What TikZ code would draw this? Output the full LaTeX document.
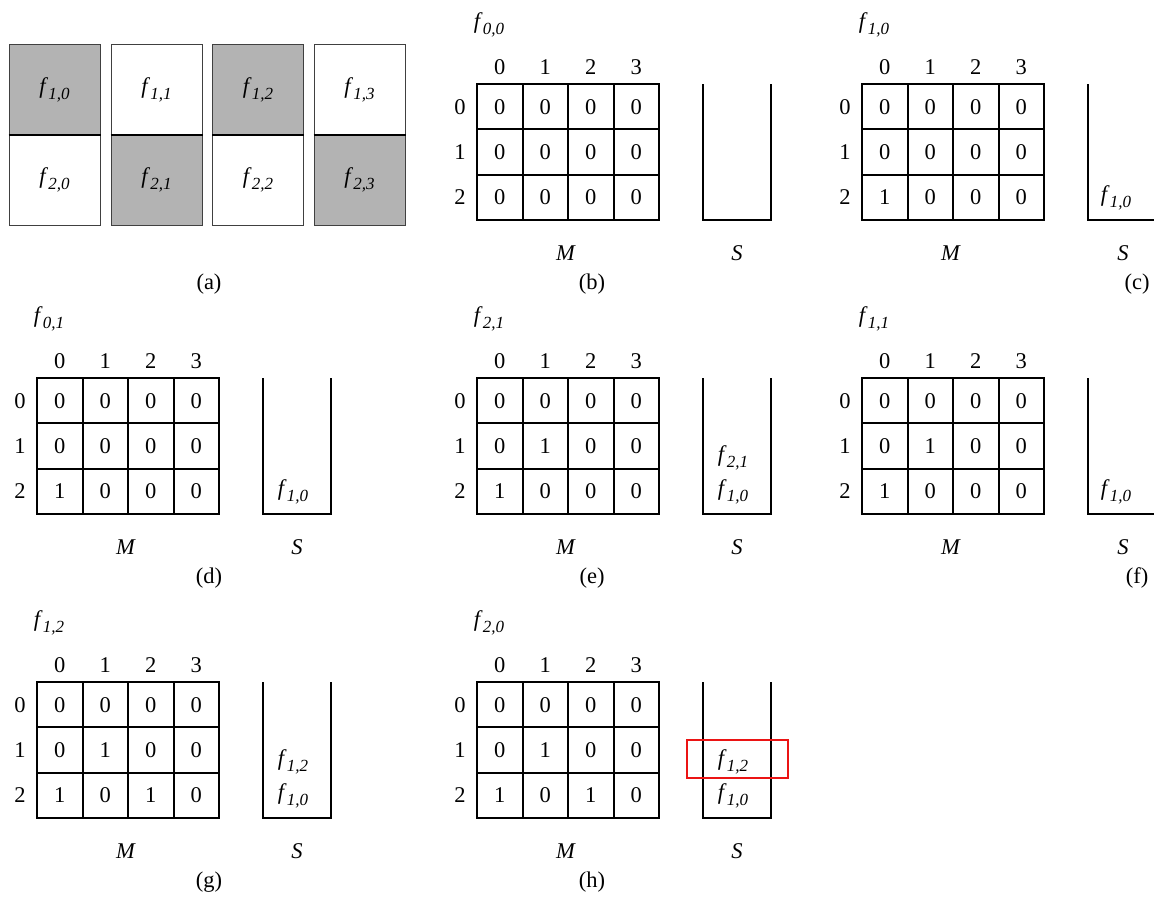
\documentclass[tikz,border=0pt]{standalone}
\usepackage{fontspec}
\setmainfont{Liberation Serif}
\definecolor{tilegray}{RGB}{179,179,179}
\definecolor{hlred}{RGB}{235,20,20}

% f with an italic subscript index, e.g. \fl{1,0}
\newcommand\fl[1]{\textit{f}\raisebox{-0.26em}{\fontsize{17}{19}\selectfont\textit{#1}}}

\tikzset{
  txt/.style={font=\fontsize{22.5}{26}\selectfont, inner sep=0pt},
  cell/.style={txt, draw, line width=2pt, minimum width=45.5pt, minimum height=45.3pt},
  wall/.style={line width=2pt},
  tile/.style={txt, draw=black!75, line width=1pt, minimum width=91pt, minimum height=90.5pt},
  shaded/.style={fill=tilegray},
  hlbox/.style={draw=hlred, line width=2pt, minimum width=101pt, minimum height=38pt, inner sep=0pt},
}

% matrix M with indices, current element and caption
% #1 id, #2 grid left, #3 grid top, #4 current index, #5 twelve values (row major),
% #6 caption letter, #7 caption x
\newcommand\panel[7]{%
  \pgfmathsetmacro\gb{#3+3*45.3}%
  \foreach \v [count=\k from 0] in {#5}{%
    \pgfmathtruncatemacro\r{div(\k,4)}%
    \pgfmathtruncatemacro\c{mod(\k,4)}%
    \node[cell] (#1-\r-\c) at ({#2+(\c+0.5)*45.5},{#3+(\r+0.5)*45.3}) {\v};
  }
  \foreach \c in {0,...,3}
    \node[txt] (#1-col\c) at ({#2+(\c+0.5)*45.5},{#3-17}) {\c};
  \foreach \r in {0,1,2}
    \node[txt] (#1-row\r) at ({#2-17},{#3+(\r+0.5)*45.3}) {\r};
  \node[txt] (#1-cur) at ({#2+12},{#3-59}) {\fl{#4}};
  \node[txt] (#1-M) at ({#2+89},{\gb+33}) {\textit{M}};
  \node[txt] (#1-cap) at ({#7},{\gb+64}) {(#6)};
}

% stack S: #1 id, #2 left wall x, #3 top y
\newcommand\stackS[3]{%
  \coordinate (#1-tl) at (#2,#3);
  \coordinate (#1-bl) at (#2,#3+136);
  \coordinate (#1-br) at (#2+68,#3+136);
  \coordinate (#1-tr) at (#2+68,#3);
  \node[txt] (#1-S) at (#2+34,#3+169) {\textit{S}};
}
% open stack drawn to the page edge
\newcommand\stackOpen[3]{%
  \coordinate (#1-tl) at (#2,#3);
  \coordinate (#1-bl) at (#2,#3+136);
  \coordinate (#1-br) at (1154,#3+136);
  \node[txt] (#1-S) at (#2+35,#3+169) {\textit{S}};
}

\begin{document}
\begin{tikzpicture}[x=1pt,y=-1pt]
\useasboundingbox (0,0) rectangle (1154,898);

% (a) the tiled array
\node[tile,shaded] (a-1-0) at (54.5,89.5) {\fl{1,0}};
\node[tile]        (a-2-0) at (54.5,180)  {\fl{2,0}};
\node[tile]        (a-1-1) at (156.5,89.5) {\fl{1,1}};
\node[tile,shaded] (a-2-1) at (156.5,180)  {\fl{2,1}};
\node[tile,shaded] (a-1-2) at (258,89.5) {\fl{1,2}};
\node[tile]        (a-2-2) at (258,180)  {\fl{2,2}};
\node[tile]        (a-1-3) at (359.5,89.5) {\fl{1,3}};
\node[tile,shaded] (a-2-3) at (359.5,180)  {\fl{2,3}};
\foreach \i in {0,...,3}
  \draw[line width=2.2pt] (a-1-\i.south west) -- (a-1-\i.south east);
\node[txt] (a-cap) at (209,284) {(a)};

% (b)
\panel{b}{477}{84}{0,0}{0,0,0,0,0,0,0,0,0,0,0,0}{b}{592}
\stackS{bs}{703}{84}
\draw[wall] (bs-tl) -- (bs-bl) -- (bs-br) -- (bs-tr);

% (c)
\panel{c}{862}{84}{1,0}{0,0,0,0,0,0,0,0,1,0,0,0}{c}{1137}
\stackOpen{cs}{1088}{84}
\draw[wall] (cs-tl) -- (cs-bl) -- (cs-br);
\node[txt] (cs-1) at (1116,198) {\fl{1,0}};

% (d)
\panel{d}{37}{378}{0,1}{0,0,0,0,0,0,0,0,1,0,0,0}{d}{209}
\stackS{ds}{263}{378}
\draw[wall] (ds-tl) -- (ds-bl) -- (ds-br) -- (ds-tr);
\node[txt] (ds-1) at (293,492) {\fl{1,0}};

% (e)
\panel{e}{477}{378}{2,1}{0,0,0,0,0,1,0,0,1,0,0,0}{e}{592}
\stackS{es}{703}{378}
\draw[wall] (es-tl) -- (es-bl) -- (es-br) -- (es-tr);
\node[txt] (es-1) at (733,492) {\fl{1,0}};
\node[txt] (es-2) at (733,458) {\fl{2,1}};

% (f)
\panel{f}{862}{378}{1,1}{0,0,0,0,0,1,0,0,1,0,0,0}{f}{1137}
\stackOpen{fs}{1088}{378}
\draw[wall] (fs-tl) -- (fs-bl) -- (fs-br);
\node[txt] (fs-1) at (1116,492) {\fl{1,0}};

% (g)
\panel{g}{37}{682}{1,2}{0,0,0,0,0,1,0,0,1,0,1,0}{g}{209}
\stackS{gs}{263}{682}
\draw[wall] (gs-tl) -- (gs-bl) -- (gs-br) -- (gs-tr);
\node[txt] (gs-1) at (293,796) {\fl{1,0}};
\node[txt] (gs-2) at (293,762) {\fl{1,2}};

% (h)
\panel{h}{477}{682}{2,0}{0,0,0,0,0,1,0,0,1,0,1,0}{h}{592}
\stackS{hs}{703}{682}
\draw[wall] (hs-tl) -- (hs-bl) -- (hs-br) -- (hs-tr);
\node[txt] (hs-1) at (733,796) {\fl{1,0}};
\node[txt] (hs-2) at (733,762) {\fl{1,2}};
\node[hlbox] (hs-hl) at (737.5,759) {};
\end{tikzpicture}
\end{document}
